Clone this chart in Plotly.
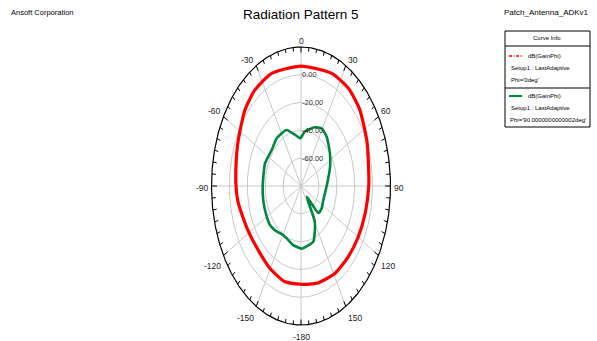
import numpy as np
import plotly.graph_objects as go

# ---- data: gain (dB) vs theta (deg) ----
red_theta = [-180, -165, -150, -135, -118, -100, -90, -78, -65, -49, -37, -22, 0,
             23, 37, 50, 66, 80, 90, 105, 120, 134, 149, 165, 180]
red_db = [-9.3, -8.9, -11.3, -13.5, -12.6, -8.9, -7.4, -5.8, -2.6, 3.1, 6.1, 7.4, 6.3,
          8.0, 8.0, 5.6, 0.5, -3.3, -4.3, -5.6, -6.3, -6.7, -6.6, -7.8, -9.3]

green_theta = [-180, -168, -157, -150, -138, -129, -120, -105, -90, -68, -52, -38, -22,
               -10, -1, 6, 20, 29, 39, 54, 67, 90, 112, 125, 135, 140, 149, 161, 177, 180]
green_db = [-35.0, -36.7, -39.1, -39.4, -37.0, -35.4, -35.8, -36.5, -37.2, -36.6, -38.3,
            -36.2, -36.6, -42.7, -45.7, -40.7, -35.0, -32.5, -34.4, -40.0, -44.7, -51.3,
            -53.1, -51.9, -52.5, -70.0, -50.0, -37.7, -35.1, -35.0]

ring_levels = [-60, -40, -20, 0]
ring_labels = ["-60.00", "-40.00", "-20.00", "0.00"]
angle_ticks = [0, 30, 60, 90, 120, 150, 180, -150, -120, -90, -60, -30]
angle_labels = ["0", "30", "60", "90", "120", "150", "-180", "-150", "-120", "-90", "-60", "-30"]

R_MIN, R_MAX = -80, 20

# ---- page geometry (pixels) ----
W, H = 597, 341
CX, CY = 301, 186          # pole position
RX, RY = 89.5, 139         # outer ellipse half-axes

FONT = "Liberation Sans, Arial, sans-serif"
GRID = "#c8c8c8"
RED = "#ff0000"
GREEN = "#00873f"


def to_xy(theta_deg, db):
    r = (np.asarray(db, float) - R_MIN) / (R_MAX - R_MIN)
    t = np.radians(np.asarray(theta_deg, float))
    return r * np.sin(t), r * np.cos(t)


def px(x, y):
    """pixel -> paper coordinates"""
    return x / W, 1 - y / H


fig = go.Figure()

# rings
tt = np.linspace(0, 360, 721)
for lev in ring_levels:
    x, y = to_xy(tt, np.full_like(tt, lev))
    fig.add_trace(go.Scatter(x=x, y=y, mode="lines", line=dict(color=GRID, width=1),
                             hoverinfo="skip", showlegend=False))
# spokes
sx, sy = [], []
for a in range(0, 360, 30):
    t = np.radians(a)
    sx += [0, np.sin(t), None]
    sy += [0, np.cos(t), None]
fig.add_trace(go.Scatter(x=sx, y=sy, mode="lines", line=dict(color=GRID, width=1),
                         hoverinfo="skip", showlegend=False))

# data curves
gx, gy = to_xy(green_theta, green_db)
fig.add_trace(go.Scatter(x=gx, y=gy, mode="lines",
                         line=dict(color=GREEN, width=2.6, shape="spline", smoothing=0.5),
                         showlegend=False))
rx, ry = to_xy(red_theta, red_db)
fig.add_trace(go.Scatter(x=rx, y=ry, mode="lines",
                         line=dict(color=RED, width=3.2, shape="spline", smoothing=0.6),
                         showlegend=False))

# outer ellipse
ox, oy = np.sin(np.radians(tt)), np.cos(np.radians(tt))
fig.add_trace(go.Scatter(x=ox, y=oy, mode="lines", line=dict(color="black", width=1.2),
                         hoverinfo="skip", showlegend=False))

# inward ticks every 5 degrees
kx, ky = [], []
for a in range(0, 360, 5):
    t = np.radians(a)
    s, c = np.sin(t), np.cos(t)
    scale = np.hypot(RX * s, RY * c)
    L = 5.5 if a % 30 == 0 else 4.0
    r0 = 1 - L / scale
    kx += [r0 * s, s, None]
    ky += [r0 * c, c, None]
fig.add_trace(go.Scatter(x=kx, y=ky, mode="lines", line=dict(color="black", width=1),
                         hoverinfo="skip", showlegend=False))

ann = []
# angle labels
for a, lab in zip(angle_ticks, angle_labels):
    t = np.radians(a)
    s, c = np.sin(t), np.cos(t)
    xa = "left" if s > 0.1 else ("right" if s < -0.1 else "center")
    ya = "bottom" if c > 0.1 else ("top" if c < -0.1 else "middle")
    ann.append(dict(x=s, y=c, xref="x", yref="y", text=lab, showarrow=False,
                    xanchor=xa, yanchor=ya, xshift=1.0 * s,
                    yshift=(0.5 * c if c > 0 else 3.5 * c) - 1.5,
                    font=dict(family=FONT, size=8.5, color="#222")))
# ring labels
for lev, lab in zip(ring_levels, ring_labels):
    _, yv = to_xy([0], [lev])
    ann.append(dict(x=0, y=float(yv[0]), xref="x", yref="y", text=lab, showarrow=False,
                    xanchor="left", yanchor="middle", xshift=-1,
                    font=dict(family=FONT, size=7.5, color="#333")))

# titles
ann.append(dict(x=px(301, 15)[0], y=px(301, 15)[1], xref="paper", yref="paper",
                text="Radiation Pattern 5", showarrow=False, xanchor="center", yanchor="middle",
                font=dict(family=FONT, size=13.5, color="black")))
ann.append(dict(x=px(9, 13)[0], y=px(9, 13)[1], xref="paper", yref="paper",
                text="Ansoft Corporation", showarrow=False, xanchor="left", yanchor="middle",
                font=dict(family=FONT, size=7.5, color="black")))
ann.append(dict(x=px(591, 13)[0], y=px(591, 13)[1], xref="paper", yref="paper",
                text="Patch_Antenna_ADKv1", showarrow=False, xanchor="right", yanchor="middle",
                font=dict(family=FONT, size=8, color="black")))

# curve info box
BX0, BX1, BY0, BY1 = 505, 590, 31, 127
SEP1, SEP2 = 46, 88
shapes = [
    dict(type="rect", xref="paper", yref="paper",
         x0=px(BX0, 0)[0], x1=px(BX1, 0)[0], y0=px(0, BY1)[1], y1=px(0, BY0)[1],
         line=dict(color="black", width=1), fillcolor="white"),
    dict(type="line", xref="paper", yref="paper",
         x0=px(BX0, 0)[0], x1=px(BX1, 0)[0], y0=px(0, SEP1)[1], y1=px(0, SEP1)[1],
         line=dict(color="black", width=1)),
    dict(type="line", xref="paper", yref="paper",
         x0=px(BX0, 0)[0], x1=px(BX1, 0)[0], y0=px(0, SEP2)[1], y1=px(0, SEP2)[1],
         line=dict(color="black", width=1)),
    dict(type="line", xref="paper", yref="paper",
         x0=px(509, 0)[0], x1=px(522, 0)[0], y0=px(0, 56)[1], y1=px(0, 56)[1],
         line=dict(color=RED, width=1.5, dash="3px,1.5px,1px,1.5px")),
    dict(type="line", xref="paper", yref="paper",
         x0=px(509, 0)[0], x1=px(522, 0)[0], y0=px(0, 96)[1], y1=px(0, 96)[1],
         line=dict(color=GREEN, width=2)),
]

legend_rows = [
    (547, 38, "Curve Info", "center"),
    (526, 56, "dB(GainPhi)", "left"),
    (509, 68, "Setup1 : LastAdaptive", "left"),
    (509, 80, "Phi='0deg'", "left"),
    (526, 96, "dB(GainPhi)", "left"),
    (509, 108, "Setup1 : LastAdaptive", "left"),
    (508, 120, "Phi='90.0000000000002deg'", "left"),
]
for x, y, txt, xa in legend_rows:
    p = px(x, y)
    ann.append(dict(x=p[0], y=p[1], xref="paper", yref="paper", text=txt, showarrow=False,
                    xanchor=xa, yanchor="middle",
                    font=dict(family=FONT, size=6.0, color="black")))

fig.update_layout(
    width=W, height=H,
    margin=dict(l=0, r=0, t=0, b=0),
    paper_bgcolor="white", plot_bgcolor="white",
    xaxis=dict(range=[-CX / RX, (W - CX) / RX], visible=False, fixedrange=True),
    yaxis=dict(range=[-(H - CY) / RY, CY / RY], visible=False, fixedrange=True),
    annotations=ann, shapes=shapes, showlegend=False,
)

fig.write_html("out.html")
